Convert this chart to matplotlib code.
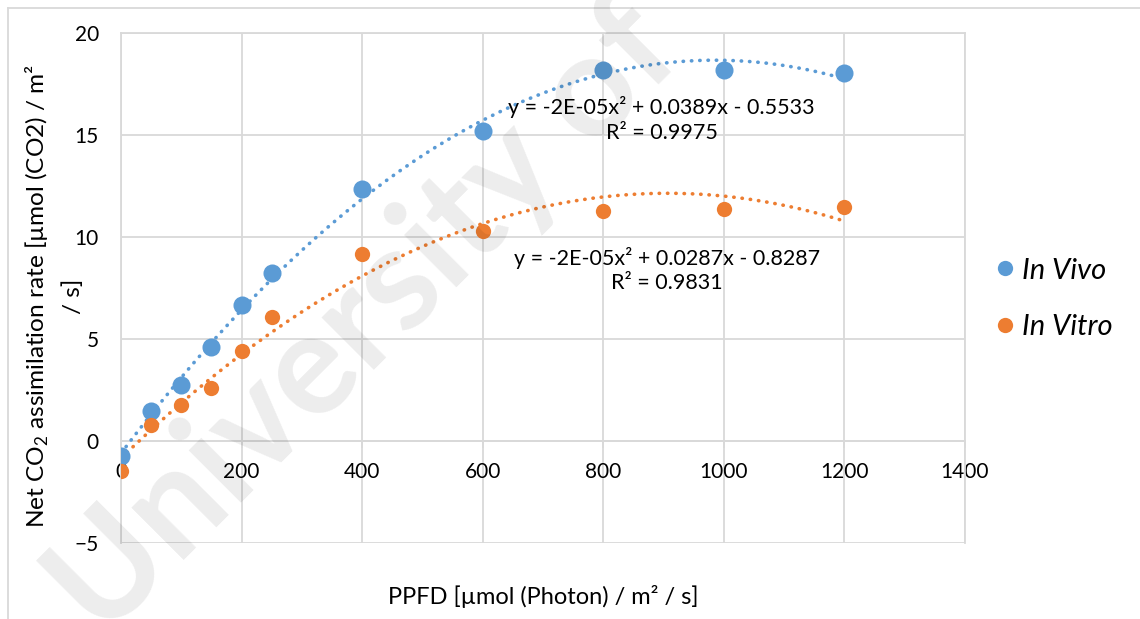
import numpy as np
import matplotlib
matplotlib.use("Agg")
import matplotlib.pyplot as plt
from matplotlib.lines import Line2D

plt.rcParams['font.family'] = ['Lato', 'DejaVu Sans']
plt.rcParams['mathtext.fontset'] = 'custom'
plt.rcParams['mathtext.rm'] = 'Lato'

# data
ppfd = [0, 50, 100, 150, 200, 250, 400, 600, 800, 1000, 1200]
in_vivo = [-0.74, 1.47, 2.75, 4.6, 6.67, 8.24, 12.35, 15.2, 18.2, 18.2, 18.04]
in_vitro = [-1.47, 0.78, 1.76, 2.6, 4.41, 6.08, 9.17, 10.3, 11.27, 11.37, 11.47]

eq_vivo = "y = -2E-05x² + 0.0389x - 0.5533\nR² = 0.9975"
eq_vitro = "y = -2E-05x² + 0.0287x - 0.8287\nR² = 0.9831"

blue = "#5B9BD5"
orange = "#ED7D31"
grid_c = "#d9d9d9"

fig = plt.figure(figsize=(11.4, 6.19), dpi=100)
ax = fig.add_axes([121/1140, 1-543/619, 844/1140, 510/619])

x = np.array(ppfd)
xs = np.linspace(0, 1200, 300)
for y, c, ms in [(in_vivo, blue, 13), (in_vitro, orange, 11)]:
    coef = np.polyfit(x, y, 2)
    ax.plot(xs, np.polyval(coef, xs), color=c, lw=2.6, ls=(0, (0.1, 2.2)),
            dash_capstyle='round', zorder=3)
    ax.plot(x, y, 'o', color=c, ms=ms, mec='none', zorder=4)

ax.text(897, 15.75, eq_vivo, ha='center', va='center', fontsize=15.5,
        linespacing=1.3, zorder=5)
ax.text(905, 8.38, eq_vitro, ha='center', va='center', fontsize=15.5,
        linespacing=1.3, zorder=5)

ax.set_xlim(0, 1400)
ax.set_ylim(-5, 20)
ax.set_xticks(range(0, 1401, 200))
ax.set_yticks(range(-5, 21, 5))
ax.grid(True, color=grid_c, lw=1.3, zorder=0)
for s in ax.spines.values():
    s.set_color(grid_c)
    s.set_linewidth(1.3)
ax.spines['bottom'].set_position(('data', 0))
ax.tick_params(axis='x', length=5, color=grid_c, width=1.3, pad=10, labelsize=15)
ax.tick_params(axis='y', length=0, pad=16, labelsize=15)

# y label, two lines as in the original
fig.text(37/1140, 1-296/619, "Net CO$_2$ assimilation rate [µmol (CO2) / m²",
         rotation=90, ha='center', va='center', fontsize=17.6)
fig.text(73/1140, 1-296/619, "/ s]", rotation=90, ha='center', va='center',
         fontsize=17.6)
fig.text(543/1140, 1-597/619, "PPFD [µmol (Photon) / m² / s]", ha='center',
         va='center', fontsize=17)

handles = [Line2D([], [], ls='none', marker='o', color=blue, ms=11, mec='none'),
           Line2D([], [], ls='none', marker='o', color=orange, ms=11, mec='none')]
fig.legend(handles, ["In Vivo", "In Vitro"], loc='center left',
           bbox_to_anchor=(967/1140, 1-299/619), frameon=False,
           prop={'style': 'italic', 'size': 21}, handletextpad=0.2,
           labelspacing=1.05, handlelength=0.8)

# chart frame
fig.add_artist(Line2D([8/1140, 1], [1-8/619, 1-8/619], color=grid_c, lw=1.3))
fig.add_artist(Line2D([8/1140, 8/1140], [0, 1-8/619], color=grid_c, lw=1.3))

# watermark
fig.text(365/1140, 1-320/619, "University of", rotation=45, ha='center',
         va='center', fontsize=103, fontweight='bold', color='black',
         alpha=0.075, zorder=10)

fig.savefig("out.png", dpi=100)
